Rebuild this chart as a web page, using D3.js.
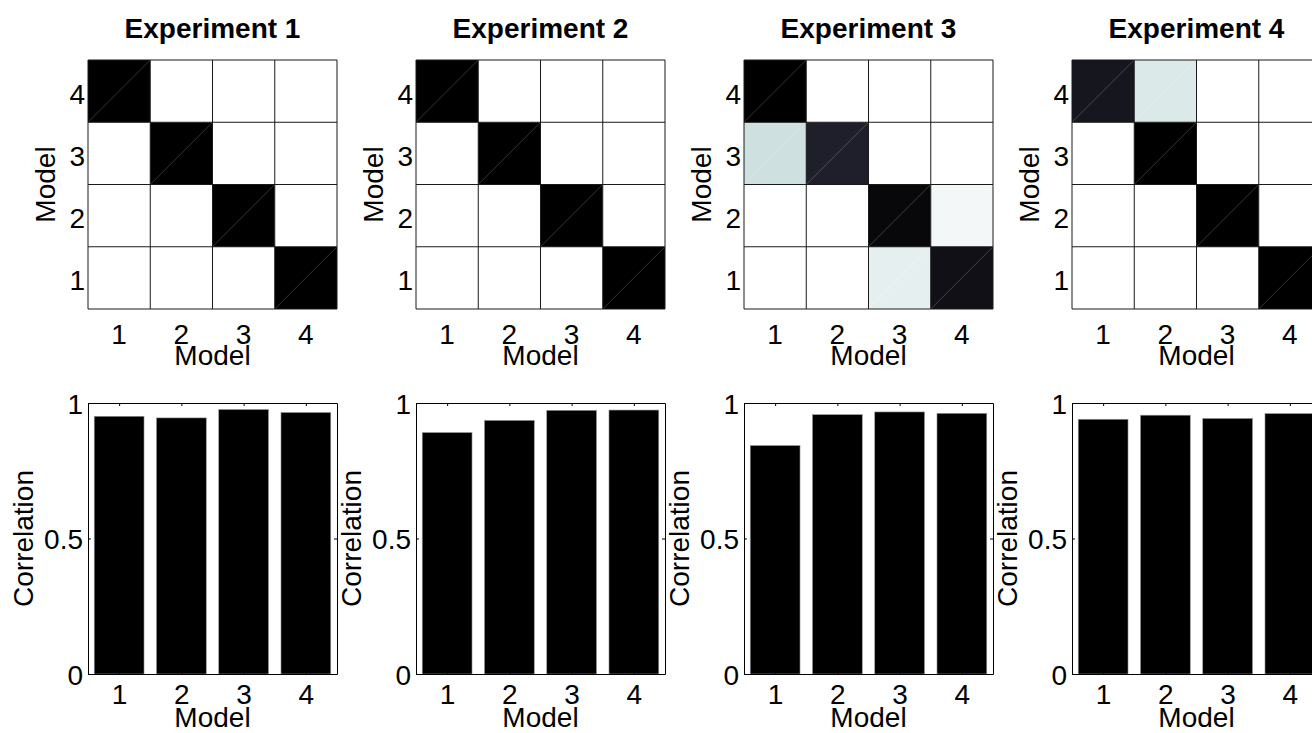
<!DOCTYPE html>
<html>
<head>
<meta charset="utf-8">
<script src="https://cdn.jsdelivr.net/npm/d3@7/dist/d3.min.js"></script>
<style>
  html, body { margin: 0; padding: 0; background: #fff; }
  svg { display: block; }
  text { font-family: "Liberation Sans", Arial, Helvetica, sans-serif; fill: #000; }
</style>
</head>
<body>
<svg id="chart" width="1312" height="733"></svg>
<script>
// ---- data ----
const experiments = ["Experiment 1", "Experiment 2", "Experiment 3", "Experiment 4"];
const models = [1, 2, 3, 4];
const modelTickLabels = ["1", "2", "3", "4"];
const corrTicks = [0, 0.5, 1];

// Confusion matrices: row i is the "Model" label i+1 on the vertical axis,
// columns are Model 1..4 on the horizontal axis.
const exp1Matrix = [[0, 0, 0, 1], [0, 0, 1, 0], [0, 1, 0, 0], [1, 0, 0, 0]];
const exp2Matrix = [[0, 0, 0, 1], [0, 0, 1, 0], [0, 1, 0, 0], [1, 0, 0, 0]];
const exp3Matrix = [[0, 0, 0.07, 0.93], [0, 0, 0.965, 0.035], [0.14, 0.86, 0, 0], [1, 0, 0, 0]];
const exp4Matrix = [[0, 0, 0, 1], [0, 0, 1, 0], [0, 1, 0, 0], [0.90, 0.10, 0, 0]];

// Correlation per model
const exp1Corr = [0.951, 0.945, 0.976, 0.965];
const exp2Corr = [0.891, 0.936, 0.973, 0.974];
const exp3Corr = [0.843, 0.957, 0.967, 0.962];
const exp4Corr = [0.940, 0.955, 0.943, 0.961];

const matrices = [exp1Matrix, exp2Matrix, exp3Matrix, exp4Matrix];
const correlations = [exp1Corr, exp2Corr, exp3Corr, exp4Corr];

// ---- layout ----
const FS = 28;
const firstLeft = 88, step = 328, side = 249;
const heatTop = 60, heatBottom = 309;
const barTop = 403, barBottom = 674;

const svg = d3.select("#chart");

// Reversed "bone" colormap: 0 -> white, 1 -> black with a cool blue tint
function bone(t) {
  const c = v => Math.max(0, Math.min(1, v));
  const hr = c(t / 0.375), hg = c((t - 0.375) / 0.375), hb = c((t - 0.75) / 0.25);
  const r = (7 * t + hb) / 8, g = (7 * t + hg) / 8, b = (7 * t + hr) / 8;
  return d3.rgb(r * 255, g * 255, b * 255).formatHex();
}
const color = d3.scaleSequential(t => bone(1 - t)).domain([0, 1]);

function styleAxisText(g) {
  g.selectAll("text").attr("font-size", FS).attr("font-family", null).attr("fill", "#000");
  g.selectAll("line").attr("stroke", "#000");
}

experiments.forEach((title, e) => {
  const left = firstLeft + e * step;
  const cx = left + side / 2;

  // ---------- heatmap ----------
  const hx = d3.scaleBand().domain(models).range([left, left + side]);
  const hy = d3.scaleBand().domain(models.slice().reverse()).range([heatTop, heatBottom]);
  const cells = [];
  matrices[e].forEach((row, ri) => row.forEach((v, ci) => cells.push({ r: models[ri], c: models[ci], v })));

  const hg = svg.append("g");
  hg.selectAll("rect.cell").data(cells).join("rect")
    .attr("class", "cell")
    .attr("x", d => hx(d.c)).attr("y", d => hy(d.r))
    .attr("width", hx.bandwidth()).attr("height", hy.bandwidth())
    .attr("fill", d => color(d.v));
  // faint seam along each cell's diagonal
  hg.selectAll("line.seam").data(cells).join("line")
    .attr("class", "seam")
    .attr("x1", d => hx(d.c)).attr("y1", d => hy(d.r) + hy.bandwidth())
    .attr("x2", d => hx(d.c) + hx.bandwidth()).attr("y2", d => hy(d.r))
    .attr("stroke", "#fff").attr("stroke-opacity", 0.3).attr("stroke-width", 0.7);
  // cell grid
  const edges = d3.range(5);
  hg.selectAll("line.gv").data(edges).join("line")
    .attr("x1", k => left + k * hx.bandwidth()).attr("x2", k => left + k * hx.bandwidth())
    .attr("y1", heatTop).attr("y2", heatBottom)
    .attr("stroke", "#1a1a1a").attr("stroke-width", 1);
  hg.selectAll("line.gh").data(edges).join("line")
    .attr("y1", k => heatTop + k * hy.bandwidth()).attr("y2", k => heatTop + k * hy.bandwidth())
    .attr("x1", left).attr("x2", left + side)
    .attr("stroke", "#1a1a1a").attr("stroke-width", 1);

  // heatmap tick labels
  svg.append("g").attr("transform", `translate(0,${heatBottom})`)
    .call(d3.axisBottom(hx).tickSize(0).tickPadding(15).tickFormat((d, i) => modelTickLabels[i]))
    .call(g => g.select(".domain").remove())
    .call(styleAxisText);
  svg.append("g").attr("transform", `translate(${left},0)`)
    .call(d3.axisLeft(hy).tickSize(0).tickPadding(3).tickFormat(d => modelTickLabels[d - 1]))
    .call(g => g.select(".domain").remove())
    .call(styleAxisText)
    .call(g => g.selectAll("text").attr("dy", "0.45em"));

  svg.append("text").attr("x", cx).attr("y", 38)
    .attr("text-anchor", "middle").attr("font-weight", "bold").attr("font-size", FS)
    .text(title);
  svg.append("text").attr("x", cx).attr("y", 365)
    .attr("text-anchor", "middle").attr("font-size", FS).text("Model");
  svg.append("text")
    .attr("transform", `translate(${left - 33},${(heatTop + heatBottom) / 2}) rotate(-90)`)
    .attr("text-anchor", "middle").attr("font-size", FS).text("Model");

  // ---------- bar chart ----------
  const bx = d3.scaleLinear().domain([0.5, 4.5]).range([left, left + side]);
  const by = d3.scaleLinear().domain([0, 1]).range([barBottom, barTop]);
  const bars = correlations[e].map((v, i) => ({ m: models[i], v }));

  svg.append("g").selectAll("rect").data(bars).join("rect")
    .attr("x", d => bx(d.m - 0.4)).attr("width", d => bx(d.m + 0.4) - bx(d.m - 0.4))
    .attr("y", d => by(d.v)).attr("height", d => by(0) - by(d.v))
    .attr("fill", "#000").attr("stroke", "#9a9a9a").attr("stroke-width", 0.6);

  svg.append("g").attr("transform", `translate(0,${barBottom})`)
    .call(d3.axisBottom(bx).tickValues(models).tickSizeInner(-3).tickSizeOuter(0).tickPadding(10)
      .tickFormat((d, i) => modelTickLabels[i]))
    .call(styleAxisText);
  svg.append("g").attr("transform", `translate(0,${barTop})`)
    .call(d3.axisTop(bx).tickValues(models).tickSizeInner(-3).tickSizeOuter(0).tickFormat(""))
    .call(styleAxisText);
  svg.append("g").attr("transform", `translate(${left},0)`)
    .call(d3.axisLeft(by).tickValues(corrTicks).tickSizeInner(-3).tickSizeOuter(0).tickPadding(5)
      .tickFormat(d3.format("~g")))
    .call(styleAxisText)
    .call(g => g.selectAll("text").attr("dy", "0.36em"));
  svg.append("g").attr("transform", `translate(${left + side},0)`)
    .call(d3.axisRight(by).tickValues(corrTicks).tickSizeInner(-3).tickSizeOuter(0).tickFormat(""))
    .call(styleAxisText);
  svg.selectAll(".domain").attr("stroke", "#000");

  svg.append("text").attr("x", cx).attr("y", 727)
    .attr("text-anchor", "middle").attr("font-size", FS).text("Model");
  svg.append("text")
    .attr("transform", `translate(${left - 55},${(barTop + barBottom) / 2}) rotate(-90)`)
    .attr("text-anchor", "middle").attr("font-size", FS).text("Correlation");
});
</script>
</body>
</html>
